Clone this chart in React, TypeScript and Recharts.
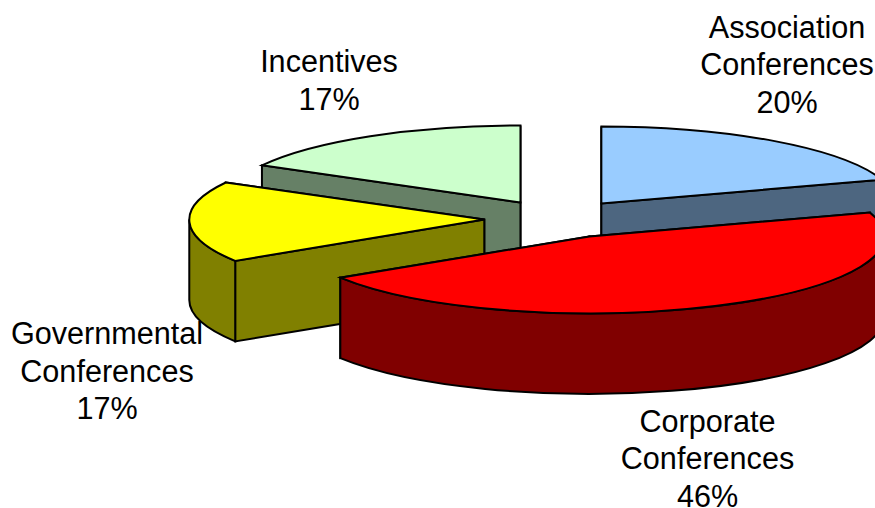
import { PieChart, Pie } from "recharts";

// Drawn counter-clockwise from the end of Association so that Corporate paints last
const sliceNames = [
  "Association Conferences",
  "Incentives",
  "Governmental Conferences",
  "Corporate Conferences",
];
const sliceValues = [20, 17, 17, 46];
const topColors = ["#99CCFF", "#CCFFCC", "#FFFF00", "#FF0000"];
const wallColors = ["#4D6680", "#668066", "#808000", "#800000"];
const labelLines = [
  ["Association", "Conferences", "20%"],
  ["Incentives", "17%"],
  ["Governmental", "Conferences", "17%"],
  ["Corporate", "Conferences", "46%"],
];
const labelCenters = [
  { x: 787, y: 26.5 },
  { x: 329, y: 61 },
  { x: 107, y: 333 },
  { x: 707.5, y: 420.5 },
];

const chartData = sliceNames.map((name, i) => ({
  name,
  value: sliceValues[i],
  fill: topColors[i],
  wall: wallColors[i],
  index: i,
}));

const SQUASH = 77 / 295;
const DEPTH = 80.5;
const EXPLODE = 0.25;
const STROKE = { stroke: "#000", strokeWidth: 2, strokeLinejoin: "miter" as const };

const rad = (deg: number) => (deg * Math.PI) / 180;

// Tilted, exploded slice. Angles are the ones Recharts worked out from the values.
const Slice3D = (props: any) => {
  const { cx, cy, outerRadius, startAngle, endAngle, fill, payload } = props;
  const rx = outerRadius;
  const ry = outerRadius * SQUASH;

  let from = 90 - Math.max(startAngle, endAngle);
  let to = 90 - Math.min(startAngle, endAngle);
  while (from < 0) {
    from += 360;
    to += 360;
  }
  const mid = (from + to) / 2;
  const ax = cx + EXPLODE * rx * Math.sin(rad(mid));
  const ay = cy - EXPLODE * ry * Math.cos(rad(mid));
  const pt = (a: number, dy = 0) =>
    `${ax + rx * Math.sin(rad(a))} ${ay - ry * Math.cos(rad(a)) + dy}`;

  const top = `M${ax} ${ay} L${pt(from)} A${rx} ${ry} 0 ${to - from > 180 ? 1 : 0} 1 ${pt(to)} Z`;
  const radial = (a: number) =>
    `M${ax} ${ay} L${pt(a)} L${pt(a, DEPTH)} L${ax} ${ay + DEPTH} Z`;

  // the wall whose outer end sits further back has to paint first
  const walls = [from, to].sort((a, b) => Math.cos(rad(b)) - Math.cos(rad(a)));

  // only the near half of the rim can be seen
  const rimFrom = Math.max(from, 90);
  const rimTo = Math.min(to, 270);
  const rim =
    rimFrom < rimTo
      ? `M${pt(rimFrom)} A${rx} ${ry} 0 0 1 ${pt(rimTo)} L${pt(rimTo, DEPTH)} A${rx} ${ry} 0 0 0 ${pt(rimFrom, DEPTH)} Z`
      : null;

  return (
    <g>
      <path d={radial(walls[0])} fill={payload.wall} {...STROKE} />
      <path d={radial(walls[1])} fill={payload.wall} {...STROKE} />
      {rim && <path d={rim} fill={payload.wall} {...STROKE} />}
      <path d={top} fill={fill} {...STROKE} />
    </g>
  );
};

const renderLabel = (props: any) => {
  const i = props.payload?.index ?? props.index;
  const pos = labelCenters[i];
  return (
    <text
      key={i}
      x={pos.x}
      y={pos.y}
      textAnchor="middle"
      fontFamily="Liberation Sans, Arial, sans-serif"
      fontSize={30.6}
      fill="#000"
    >
      {labelLines[i].map((line, n) => (
        <tspan key={n} x={pos.x} y={pos.y + n * 37.6} dominantBaseline="central">
          {line}
        </tspan>
      ))}
    </text>
  );
};

export default function App() {
  return (
    <div style={{ position: "absolute", left: 0, top: 0, width: 875, height: 508, overflow: "hidden", background: "#fff" }}>
      <PieChart width={875} height={508} margin={{ top: 0, right: 0, bottom: 0, left: 0 }}>
        <Pie
          data={chartData}
          dataKey="value"
          nameKey="name"
          cx={558}
          cy={219}
          outerRadius={295}
          startAngle={18}
          endAngle={378}
          stroke="none"
          shape={Slice3D}
          label={renderLabel}
          labelLine={false}
          isAnimationActive={false}
        />
      </PieChart>
    </div>
  );
}
